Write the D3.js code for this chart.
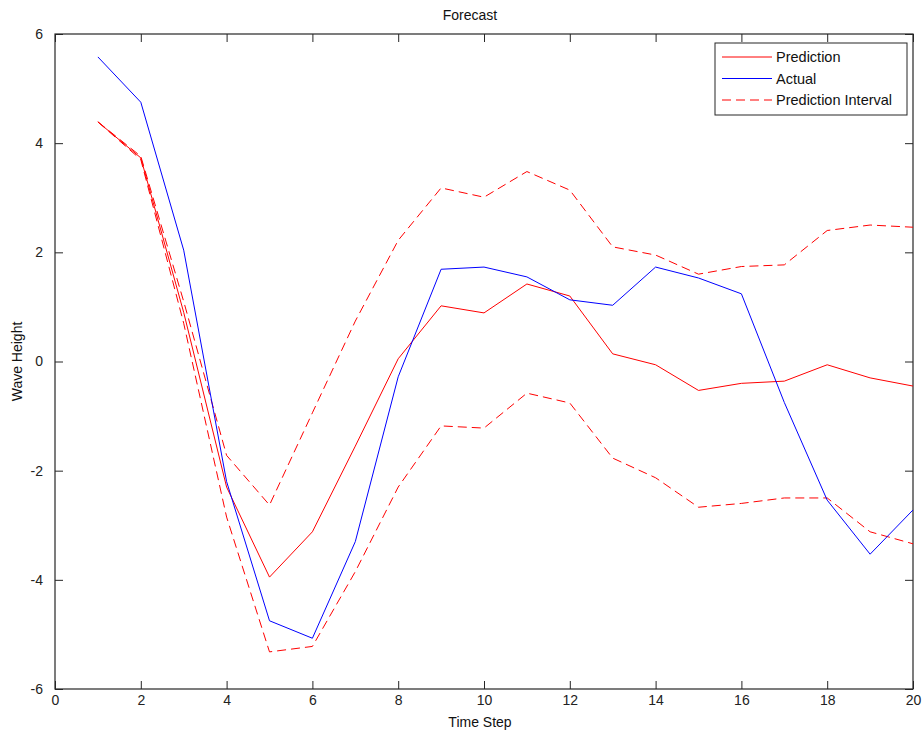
<!DOCTYPE html>
<html><head><meta charset="utf-8">
<script src="https://cdn.jsdelivr.net/npm/d3@7"></script>
<style>
body{margin:0;background:#fff;}
text{font-family:"Liberation Sans",Arial,sans-serif;}
</style></head>
<body><svg id="c" width="922" height="735"></svg>
<script>
const steps = [1,2,3,4,5,6,7,8,9,10,11,12,13,14,15,16,17,18,19,20];
const prediction = [4.39,3.73,0.9,-2.3,-3.95,-3.12,-1.55,0.05,1.02,0.89,1.42,1.2,0.14,-0.06,-0.53,-0.40,-0.36,-0.06,-0.30,-0.45];
const actual     = [5.58,4.75,2.04,-2.2,-4.75,-5.07,-3.3,-0.28,1.69,1.73,1.55,1.13,1.03,1.73,1.53,1.24,-0.75,-2.54,-3.53,-2.72];
const upperPI    = [4.39,3.76,1.1,-1.72,-2.63,-0.94,0.74,2.22,3.18,3.01,3.48,3.14,2.10,1.95,1.60,1.74,1.77,2.40,2.50,2.46];
const lowerPI    = [4.39,3.70,0.7,-2.85,-5.32,-5.22,-3.85,-2.3,-1.18,-1.22,-0.58,-0.76,-1.77,-2.13,-2.67,-2.60,-2.50,-2.50,-3.12,-3.34];
const xTicks = [0,2,4,6,8,10,12,14,16,18,20];
const yTicks = [-6,-4,-2,0,2,4,6];
const legendLabels = ["Prediction","Actual","Prediction Interval"];

const L=55, R=913, T=34, B=689;
const svg = d3.select("#c");
const x = d3.scaleLinear().domain([0,20]).range([L,R]);
const y = d3.scaleLinear().domain([-6,6]).range([B,T]);
const axisColor = "#262626";

svg.append("rect").attr("x",L).attr("y",T).attr("width",R-L).attr("height",B-T)
  .attr("fill","none").attr("stroke",axisColor).attr("stroke-width",1.2);

const tl = 8;
const fmt = d=>String(d);
const gB = svg.append("g").attr("transform",`translate(0,${B})`)
  .call(d3.axisBottom(x).tickValues(xTicks).tickSize(-tl).tickPadding(tl+4).tickFormat(fmt));
const gT = svg.append("g").attr("transform",`translate(0,${T})`)
  .call(d3.axisTop(x).tickValues(xTicks).tickSize(-tl).tickFormat(""));
const gL = svg.append("g").attr("transform",`translate(${L},0)`)
  .call(d3.axisLeft(y).tickValues(yTicks).tickSize(-tl).tickPadding(tl+4).tickFormat(fmt));
const gR = svg.append("g").attr("transform",`translate(${R},0)`)
  .call(d3.axisRight(y).tickValues(yTicks).tickSize(-tl).tickFormat(""));
[gB,gT,gL,gR].forEach(g=>{
  g.select(".domain").remove();
  g.selectAll(".tick line").attr("stroke",axisColor);
  g.selectAll(".tick text").attr("fill","#222").style("font-size","14px").style("font-family","Liberation Sans, Arial, sans-serif");
});
gB.selectAll(".tick text").attr("dy","0.25em");

const line = d3.line().x((d,i)=>x(steps[i])).y(d=>y(d));
const red = "#ff0000", blue = "#0000ff";
svg.append("path").datum(upperPI).attr("d",line).attr("fill","none").attr("stroke",red).attr("stroke-width",1).attr("stroke-dasharray","9,5");
svg.append("path").datum(lowerPI).attr("d",line).attr("fill","none").attr("stroke",red).attr("stroke-width",1).attr("stroke-dasharray","9,5");
svg.append("path").datum(prediction).attr("d",line).attr("fill","none").attr("stroke",red).attr("stroke-width",1);
svg.append("path").datum(actual).attr("d",line).attr("fill","none").attr("stroke",blue).attr("stroke-width",1);

svg.append("text").attr("x",470).attr("y",20).attr("text-anchor","middle").style("font-size","14px").attr("fill","#111").text("Forecast");
svg.append("text").attr("x",480).attr("y",727).attr("text-anchor","middle").style("font-size","14px").attr("fill","#111").text("Time Step");
svg.append("text").attr("transform",`translate(22,${(T+B)/2}) rotate(-90)`).attr("text-anchor","middle").style("font-size","14px").attr("fill","#111").text("Wave Height");

const lg = svg.append("g");
lg.append("rect").attr("x",715).attr("y",43).attr("width",192).attr("height",72).attr("fill","#fff").attr("stroke",axisColor).attr("stroke-width",1);
const lstyles = [{c:red,d:null},{c:blue,d:null},{c:red,d:"9,5"}];
legendLabels.forEach((t,i)=>{
  const yy = 57 + i*21.5;
  const ln = lg.append("line").attr("x1",722).attr("x2",772).attr("y1",yy).attr("y2",yy).attr("stroke",lstyles[i].c).attr("stroke-width",1);
  if(lstyles[i].d) ln.attr("stroke-dasharray",lstyles[i].d);
  lg.append("text").attr("x",776).attr("y",yy+5).style("font-size","14.5px").attr("fill","#111").text(t);
});
</script></body></html>
